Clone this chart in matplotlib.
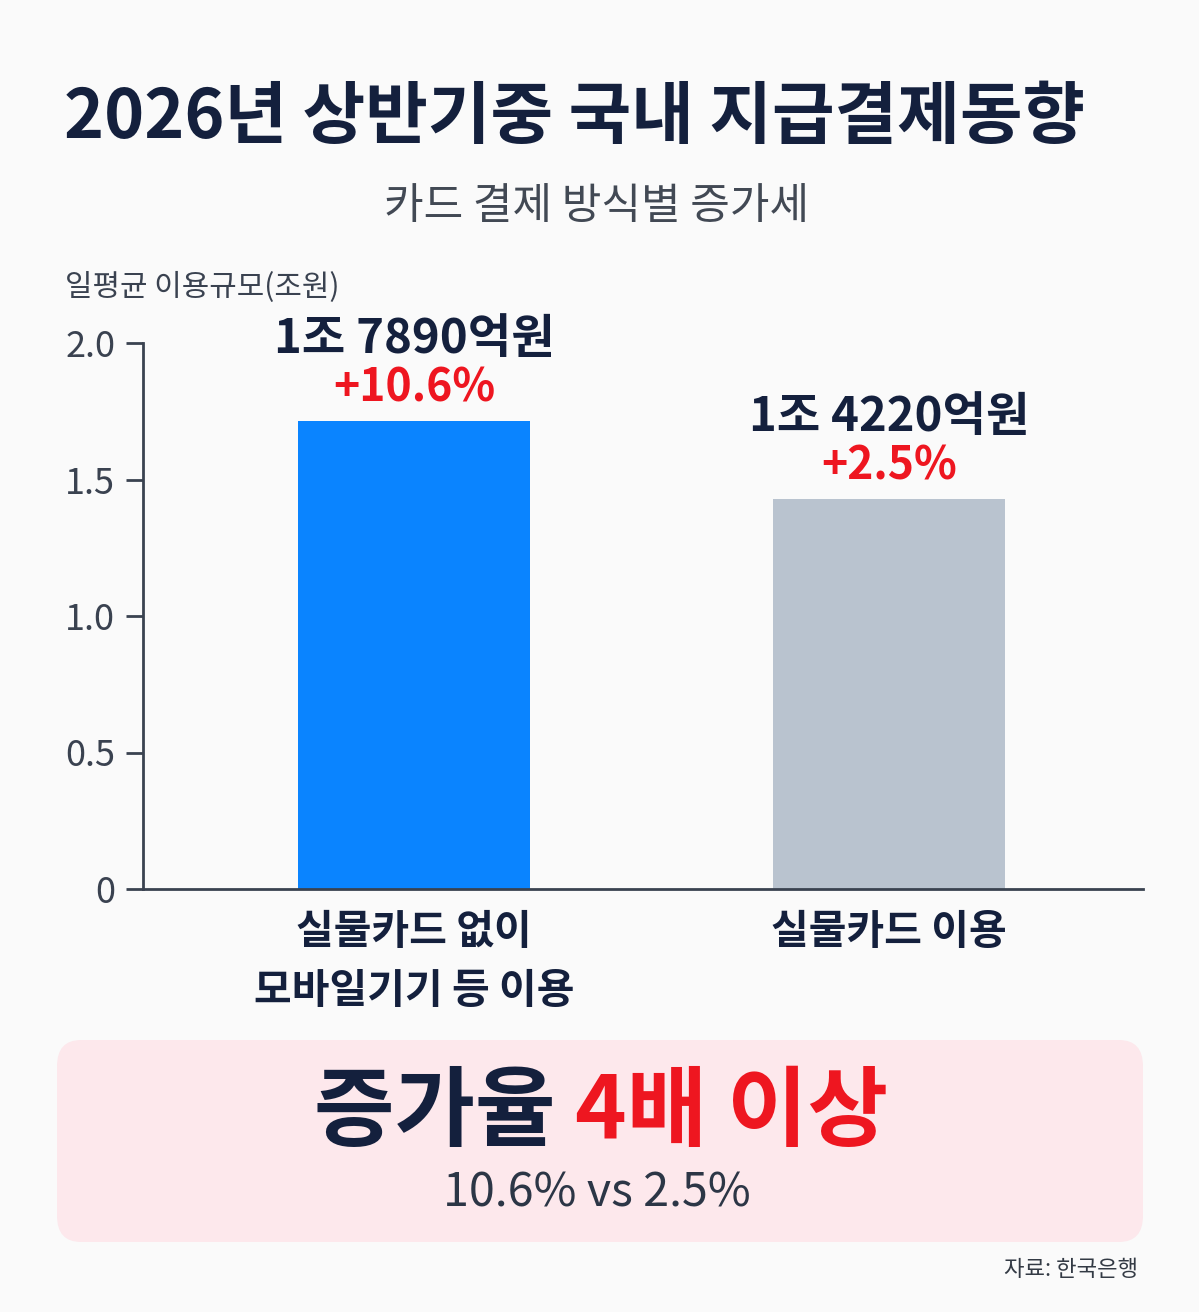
import matplotlib
matplotlib.use('Agg')
import matplotlib.pyplot as plt
from matplotlib.patches import FancyBboxPatch

plt.rcParams['font.family'] = ['Noto Sans CJK KR', 'DejaVu Sans']

# data
categories = ['실물카드 없이\n모바일기기 등 이용', '실물카드 이용']
values = [1.715, 1.43]          # 일평균 이용규모(조원), bar heights as drawn
value_labels = ['1조 7890억원', '1조 4220억원']
growth_labels = ['+10.6%', '+2.5%']
yticks = [0, 0.5, 1.0, 1.5, 2.0]
ytick_labels = ['0', '0.5', '1.0', '1.5', '2.0']

NAVY = '#14203d'
AXIS = '#3a4250'
RED = '#ee1620'
bar_colors = ['#0a84ff', '#b9c3cf']
BG = '#fafafa'

fig = plt.figure(figsize=(11.99, 13.12), dpi=100)
fig.patch.set_facecolor(BG)

ax = fig.add_axes([143/1199, 1-889/1312, 1000/1199, 546/1312])
ax.set_facecolor(BG)
x = [0, 1]
ax.bar(x, values, width=0.49, color=bar_colors, zorder=2)
ax.set_xlim(-0.5705, 1.5347)
ax.set_ylim(0, 2.0)
ax.set_yticks(yticks)
ax.set_yticklabels(ytick_labels, fontsize=26, color=AXIS)
ax.set_xticks(x)
ax.set_xticklabels(categories, fontsize=29.5, fontweight='bold', color=NAVY, linespacing=1.5)
ax.tick_params(axis='x', length=0, pad=16)
ax.tick_params(axis='y', length=12, width=2, color=AXIS, pad=8, direction='out')
for s in ['top', 'right']:
    ax.spines[s].set_visible(False)
for s in ['left', 'bottom']:
    ax.spines[s].set_color(AXIS)
    ax.spines[s].set_linewidth(2)

for xi, v, vl, gl in zip(x, values, value_labels, growth_labels):
    ax.annotate(gl, (xi, v), xytext=(0, 32), textcoords='offset pixels',
                ha='center', va='center', fontsize=32, fontweight='bold', color=RED)
    ax.annotate(vl, (xi, v), xytext=(0, 82), textcoords='offset pixels',
                ha='center', va='center', fontsize=34, fontweight='bold', color=NAVY)

# titles
fig.text(575/1199, 1-118/1312, '2026년 상반기중 국내 지급결제동향', ha='center', va='center',
         fontsize=49, fontweight='black', color=NAVY)
fig.text(597/1199, 1-207/1312, '카드 결제 방식별 증가세', ha='center', va='center',
         fontsize=31, fontweight='medium', color='#424954')
fig.text(65/1199, 1-287/1312, '일평균 이용규모(조원)', ha='left', va='center',
         fontsize=21.5, color=AXIS)

# summary box
box = FancyBboxPatch((57/1199, 1-1242/1312), 1086/1199, 202/1312,
                     boxstyle='round,pad=0,rounding_size=0.02',
                     transform=fig.transFigure, facecolor='#fde8ec', edgecolor='none')
fig.add_artist(box)

t1 = fig.text(0, 1-1114/1312, '증가율 ', ha='left', va='center',
              fontsize=63, fontweight='black', color=NAVY)
t2 = fig.text(0, 1-1114/1312, '4배 이상', ha='left', va='center',
              fontsize=63, fontweight='black', color=RED)
fig.canvas.draw()
r = fig.canvas.get_renderer()
w1 = t1.get_window_extent(r).width
w2 = t2.get_window_extent(r).width
start = 601 - (w1 + w2) / 2
t1.set_x(start / 1199)
t2.set_x((start + w1) / 1199)

fig.text(597/1199, 1-1193/1312, '10.6% vs 2.5%', ha='center', va='center',
         fontsize=33.5, fontweight='medium', color='#2c3646')
fig.text(1138/1199, 1-1270/1312, '자료: 한국은행', ha='right', va='center',
         fontsize=16, color='#333a44')

fig.savefig('out.png', dpi=100, facecolor=BG)
